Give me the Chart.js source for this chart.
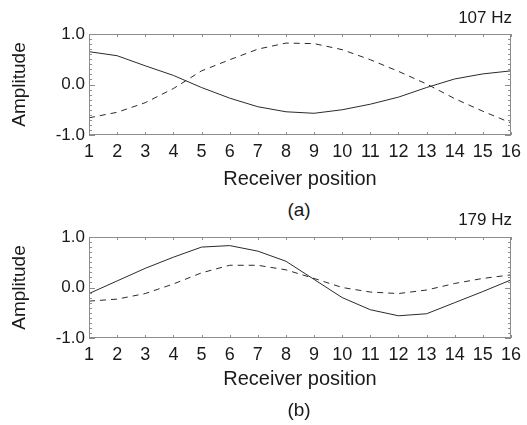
<!DOCTYPE html>
<html>
<head>
<meta charset="utf-8">
<script src="https://cdn.jsdelivr.net/npm/chart.js@4/dist/chart.umd.min.js"></script>
<style>
  html, body { margin: 0; padding: 0; background: #fff; }
  body { width: 527px; height: 425px; position: relative; overflow: hidden;
         font-family: "Liberation Sans", Arial, sans-serif; color: #1a1a1a; }
  .panel { position: absolute; left: 0; width: 527px; }
  .freq { position: absolute; right: 15px; font-size: 17px; line-height: 1; }
  .cap { position: absolute; left: 0; width: 598px; text-align: center; font-size: 19px; line-height: 1; }
</style>
</head>
<body>
<div class="panel" style="top:0;height:195px"><canvas id="chartA" width="527" height="195"></canvas></div>
<div class="freq" style="top:9px">107 Hz</div>
<div class="cap" style="top:200px">(a)</div>

<div class="panel" style="top:200px;height:200px"><canvas id="chartB" width="527" height="200"></canvas></div>
<div class="freq" style="top:211px">179 Hz</div>
<div class="cap" style="top:400px">(b)</div>

<script>
// Receiver positions along the array
const positions = [1, 2, 3, 4, 5, 6, 7, 8, 9, 10, 11, 12, 13, 14, 15, 16];

// 107 Hz mode shapes
const amp107Solid  = [0.65, 0.57, 0.37, 0.18, -0.06, -0.27, -0.44, -0.54, -0.57, -0.50, -0.39, -0.25, -0.06, 0.11, 0.21, 0.27];
const amp107Dashed = [-0.66, -0.55, -0.36, -0.08, 0.27, 0.49, 0.70, 0.82, 0.81, 0.69, 0.49, 0.26, 0.01, -0.28, -0.53, -0.76];

// 179 Hz mode shapes
const amp179Solid  = [-0.12, 0.13, 0.38, 0.60, 0.80, 0.83, 0.72, 0.52, 0.16, -0.20, -0.44, -0.56, -0.52, -0.30, -0.08, 0.15];
const amp179Dashed = [-0.27, -0.23, -0.12, 0.07, 0.29, 0.44, 0.44, 0.35, 0.18, 0.00, -0.09, -0.12, -0.05, 0.08, 0.18, 0.25];

// Axis tick values
const yTickValues = [-1, 0, 1];
const xTickValues = positions;

const LINE = '#2a2a2a';
const FRAME = '#8c8c8c';

// Boxed frame with inward major/minor ticks on all four sides
const framePlugin = {
  id: 'frame',
  afterDraw(chart) {
    const { ctx, chartArea: a, scales: { x, y } } = chart;
    ctx.save();
    ctx.strokeStyle = FRAME;
    ctx.lineWidth = 1;
    ctx.strokeRect(a.left + 0.5, a.top + 0.5, a.right - a.left - 1, a.bottom - a.top - 1);
    ctx.beginPath();
    // y ticks every 0.1, major at the labelled values
    for (let i = -10; i <= 10; i++) {
      const v = i / 10;
      const py = Math.round(y.getPixelForValue(v)) + 0.5;
      const len = yTickValues.includes(v) ? 6 : 3;
      ctx.moveTo(a.left, py); ctx.lineTo(a.left + len, py);
      ctx.moveTo(a.right, py); ctx.lineTo(a.right - len, py);
    }
    // x ticks at every receiver position
    xTickValues.forEach(v => {
      const px = Math.round(x.getPixelForValue(v)) + 0.5;
      ctx.moveTo(px, a.top); ctx.lineTo(px, a.top + 3);
      ctx.moveTo(px, a.bottom); ctx.lineTo(px, a.bottom - 3);
    });
    ctx.stroke();
    ctx.restore();
  }
};

function makeChart(id, solid, dashed, padTop, axisHeight, titlePadBottom) {
  const pts = arr => positions.map((p, i) => ({ x: p, y: arr[i] }));
  return new Chart(document.getElementById(id), {
    type: 'line',
    data: {
      datasets: [
        { data: pts(solid), borderColor: LINE, borderWidth: 1, pointRadius: 0, tension: 0, fill: false },
        { data: pts(dashed), borderColor: LINE, borderWidth: 1, borderDash: [6, 5], pointRadius: 0, tension: 0, fill: false }
      ]
    },
    options: {
      responsive: false,
      animation: false,
      events: [],
      layout: { padding: { top: padTop, right: 11, left: 0, bottom: 0 } },
      plugins: { legend: { display: false }, tooltip: { enabled: false }, title: { display: false } },
      scales: {
        x: {
          type: 'linear', min: 1, max: 16,
          afterBuildTicks: s => { s.ticks = xTickValues.map(v => ({ value: v })); },
          afterFit: s => { s.height = axisHeight; },
          grid: { display: false, drawTicks: false },
          border: { display: false },
          ticks: { color: '#1a1a1a', padding: 6, maxRotation: 0, autoSkip: false,
                   font: { family: '"Liberation Sans", Arial, sans-serif', size: 18 } },
          title: { display: true, text: 'Receiver position', color: '#1a1a1a',
                   padding: { top: 0, bottom: titlePadBottom },
                   font: { family: '"Liberation Sans", Arial, sans-serif', size: 20 } }
        },
        y: {
          min: -1, max: 1,
          afterBuildTicks: s => { s.ticks = yTickValues.map(v => ({ value: v })); },
          afterFit: s => { s.width = 89; },
          grid: { display: false, drawTicks: false },
          border: { display: false },
          ticks: { color: '#1a1a1a', padding: 4, callback: v => v.toFixed(1),
                   font: { family: '"Liberation Sans", Arial, sans-serif', size: 17 } },
          title: { display: true, text: 'Amplitude', color: '#1a1a1a',
                   padding: { top: 8, bottom: 0 },
                   font: { family: '"Liberation Sans", Arial, sans-serif', size: 19 } }
        }
      }
    },
    plugins: [framePlugin]
  });
}

makeChart('chartA', amp107Solid, amp107Dashed, 34, 60, 4);
makeChart('chartB', amp179Solid, amp179Dashed, 37, 62, 9);
</script>
</body>
</html>
